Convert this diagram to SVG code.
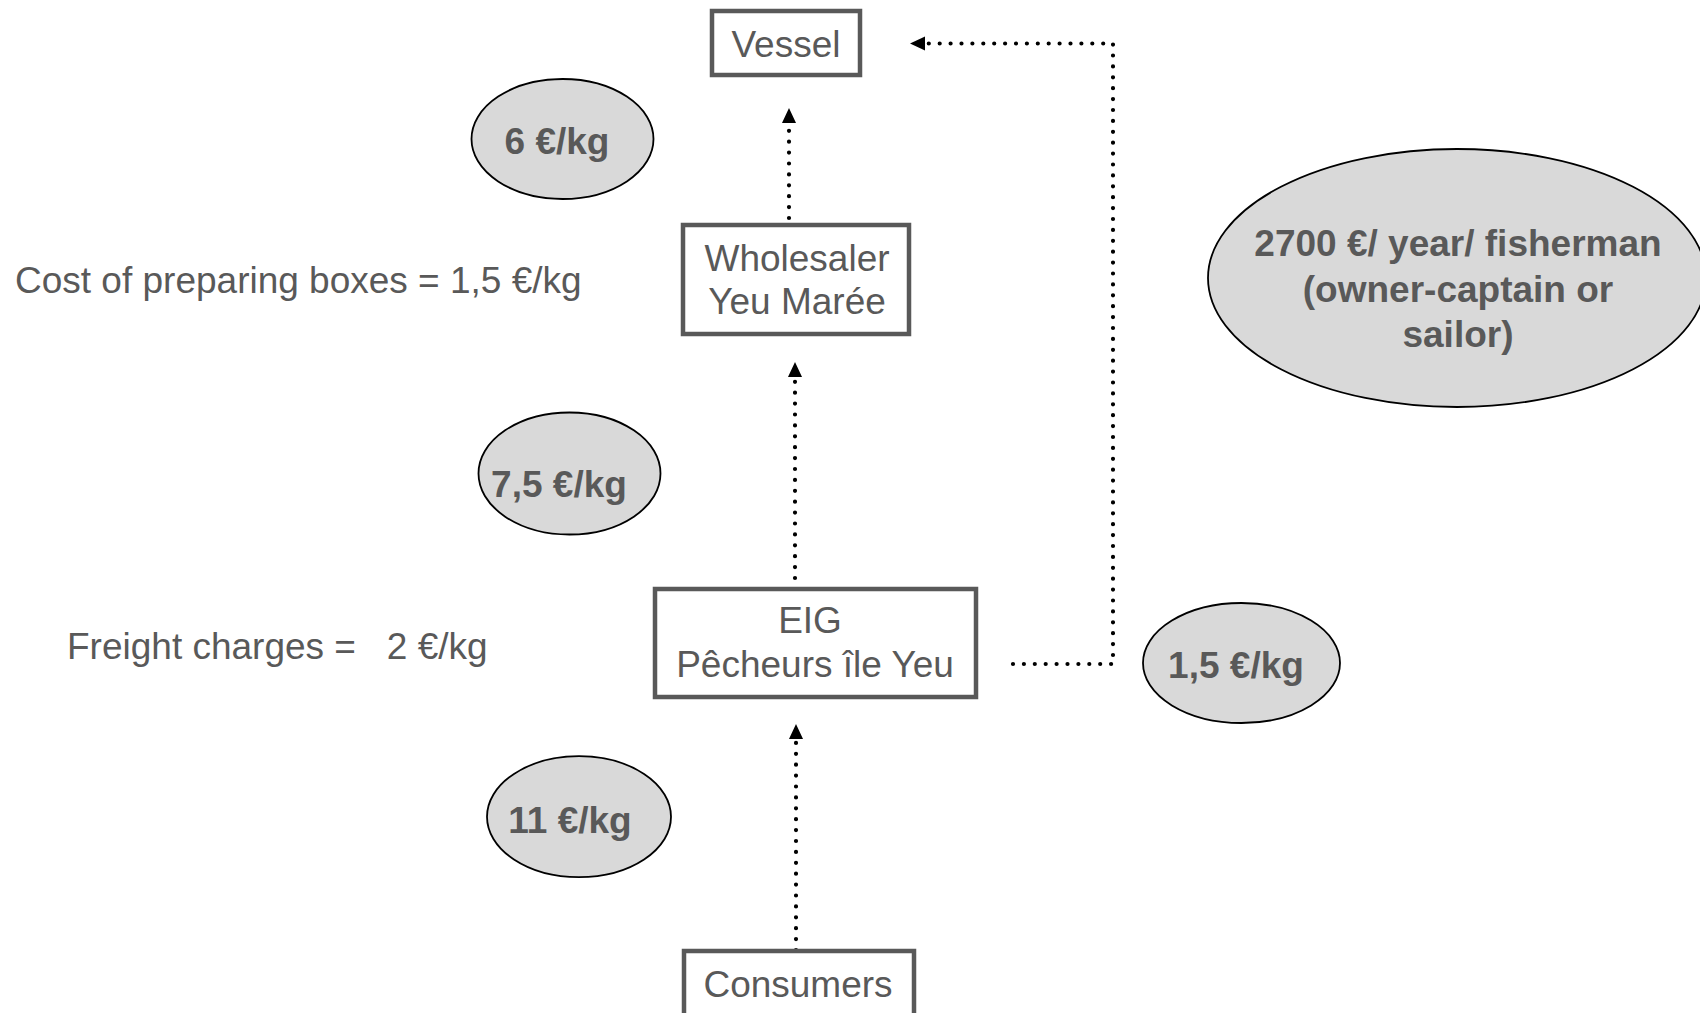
<svg xmlns="http://www.w3.org/2000/svg" width="1700" height="1013" viewBox="0 0 1700 1013">
<style>
  .box { fill: #ffffff; stroke: #595959; stroke-width: 4.5; }
  .oval { fill: #d9d9d9; stroke: #000000; stroke-width: 1.8; }
  .t { font-family: "Liberation Sans", Arial, sans-serif; font-size: 37px; fill: #595959; }
  .b { font-family: "Liberation Sans", Arial, sans-serif; font-size: 37px; font-weight: bold; fill: #595959; }
  .dot { fill: none; stroke: #000000; stroke-width: 4.2; stroke-linecap: round; stroke-dasharray: 0 10.9; }
  .head { fill: #000000; }
</style>
<rect width="1700" height="1013" fill="#ffffff"/>

<g id="connectors">
  <path class="dot" d="M789,218 L789,124"/>
  <path class="head" d="M789,108 L782,123 L796,123 Z"/>
  <path class="dot" d="M795,578 L795,379"/>
  <path class="head" d="M795,362 L788,377 L802,377 Z"/>
  <path class="dot" d="M796,950 L796,741"/>
  <path class="head" d="M796,724 L789,739 L803,739 Z"/>
  <path class="dot" d="M1013,664 L1113,664 L1113,43.5 L928,43.5"/>
  <path class="head" d="M910,43.5 L925,36.5 L925,50.5 Z"/>
</g>

<g id="vessel">
  <rect class="box" x="712" y="11" width="148" height="64"/>
  <text class="t" x="786" y="57" text-anchor="middle">Vessel</text>
</g>

<g id="wholesaler">
  <rect class="box" x="683" y="225" width="226" height="109"/>
  <text class="t" x="797" y="271" text-anchor="middle">Wholesaler</text>
  <text class="t" x="797" y="314" text-anchor="middle">Yeu Marée</text>
</g>

<g id="eig">
  <rect class="box" x="655" y="589" width="321" height="108"/>
  <text class="t" x="810" y="633" text-anchor="middle">EIG</text>
  <text class="t" x="815" y="677" text-anchor="middle">Pêcheurs île Yeu</text>
</g>

<g id="consumers">
  <rect class="box" x="684" y="951" width="230" height="80"/>
  <text class="t" x="798" y="997" text-anchor="middle">Consumers</text>
</g>

<g id="price-vessel">
  <ellipse class="oval" cx="562.5" cy="139" rx="91" ry="60"/>
  <text class="b" x="557" y="154" text-anchor="middle">6 €/kg</text>
</g>

<g id="price-wholesaler">
  <ellipse class="oval" cx="569.5" cy="473.5" rx="91" ry="61"/>
  <text class="b" x="559" y="497" text-anchor="middle">7,5 €/kg</text>
</g>

<g id="price-consumer">
  <ellipse class="oval" cx="579" cy="816.7" rx="92" ry="60.5"/>
  <text class="b" x="570" y="833" text-anchor="middle">11 €/kg</text>
</g>

<g id="price-eig">
  <ellipse class="oval" cx="1241.5" cy="663" rx="98.5" ry="60"/>
  <text class="b" x="1236" y="678" text-anchor="middle">1,5 €/kg</text>
</g>

<g id="fisherman-income">
  <ellipse class="oval" cx="1457" cy="278" rx="249" ry="129"/>
  <text class="b" x="1458" y="256" text-anchor="middle">2700 €/ year/ fisherman</text>
  <text class="b" x="1458" y="301.5" text-anchor="middle">(owner-captain or</text>
  <text class="b" x="1458" y="347" text-anchor="middle">sailor)</text>
</g>

<g id="cost-boxes">
  <text class="t" x="15" y="293">Cost of preparing boxes = 1,5 €/kg</text>
</g>

<g id="freight">
  <text class="t" x="67" y="659" xml:space="preserve">Freight charges =   2 €/kg</text>
</g>
</svg>
